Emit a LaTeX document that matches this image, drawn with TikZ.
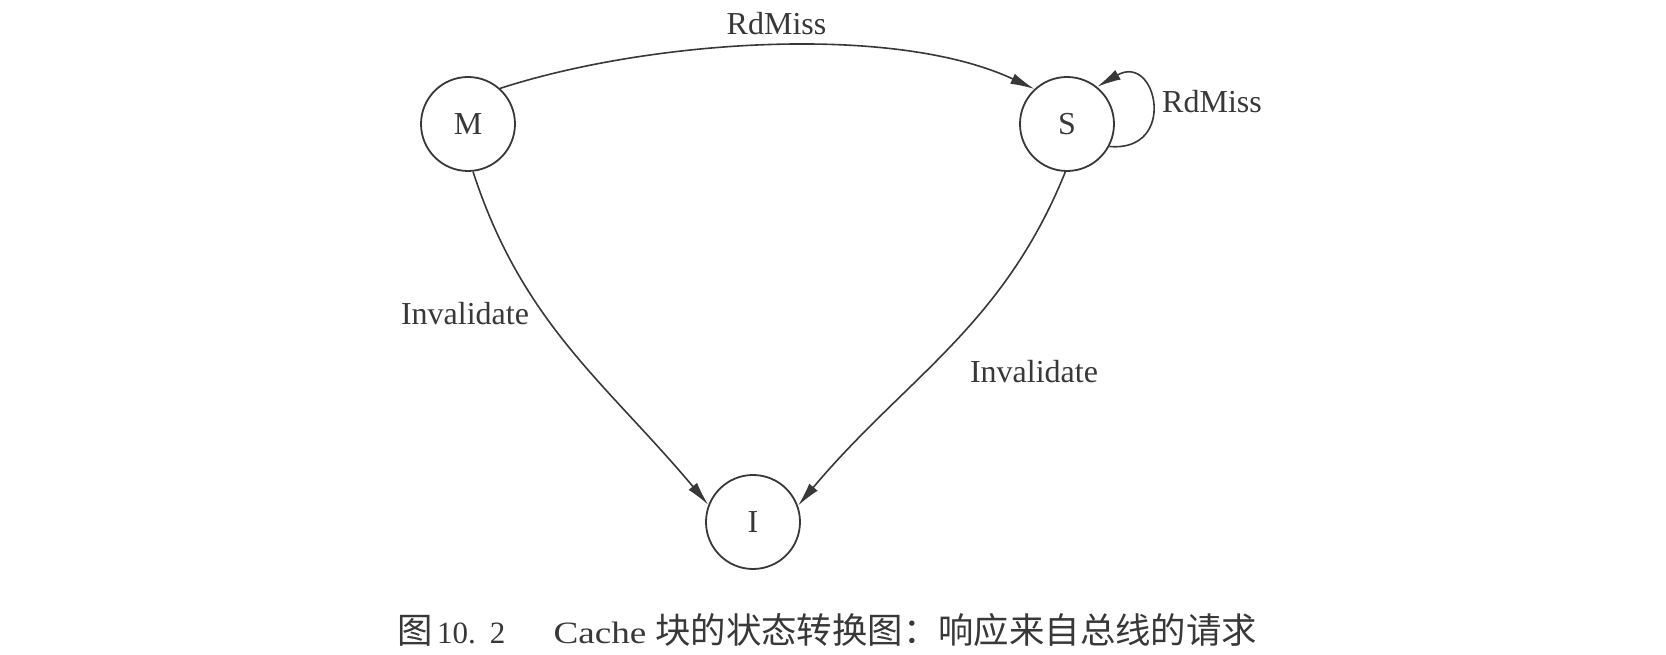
\documentclass[tikz,border=0pt]{standalone}
\usepackage{fontspec}
\setmainfont{Liberation Serif}
\newfontfamily\cjkfont{Noto Sans CJK SC}
\usetikzlibrary{arrows.meta}
\definecolor{ink}{HTML}{383838}
\begin{document}
\begin{tikzpicture}[x=1pt,y=1pt,
  state/.style={circle,draw=ink,line width=1.8pt,minimum size=94pt,inner sep=0pt,
                font=\fontsize{32}{38}\selectfont,text=ink},
  trans/.style={draw=ink,line width=1.6pt,-{Latex[length=24pt,width=11pt]}},
  lbl/.style={font=\fontsize{32}{38}\selectfont,text=ink,inner sep=0pt},
  capl/.style={font=\fontsize{31}{37}\selectfont,text=ink,inner sep=0pt},
  capc/.style={font=\cjkfont\fontsize{35.4}{42}\selectfont,text=ink,inner sep=0pt}]
\fill[white] (0,0) rectangle (1666,654);
\useasboundingbox (0,0) rectangle (1666,654);

% states
\node[state] (M) at (468,530) {M};
\node[state] (S) at (1067,530) {S};
\node[state] (I) at (753,132) {I};

% transitions
\draw[trans] (M.48) to[out=18,in=155,looseness=0.75] (S.133);
\draw[trans] (S.-28) to[out=-5,in=30,looseness=2.9] (S.51);
\draw[trans] (M.-84) to[out=-72,in=130] (I.159);
\draw[trans] (S.-92) to[out=-112,in=50] (I.20);

% labels
\node[lbl,anchor=base] (l1) at (776.5,619) {RdMiss};
\node[lbl,anchor=base west] (l2) at (1162,541) {RdMiss};
\node[lbl,anchor=base] (l3) at (465,329) {Invalidate};
\node[lbl,anchor=base] (l4) at (1034,271) {Invalidate};

% caption
\node[capc,anchor=base west] (c1) at (397,11) {图};
\node[capl,anchor=base west] (c2) at (437,11) {10.\hspace{14pt}2};
\node[capl,anchor=base] (c3) at (600,11) {\scalebox{1.2}[1]{Cache}};
\node[capc,anchor=base west] (c4) at (655,11) {块的状态转换图：响应来自总线的请求};
\end{tikzpicture}
\end{document}
